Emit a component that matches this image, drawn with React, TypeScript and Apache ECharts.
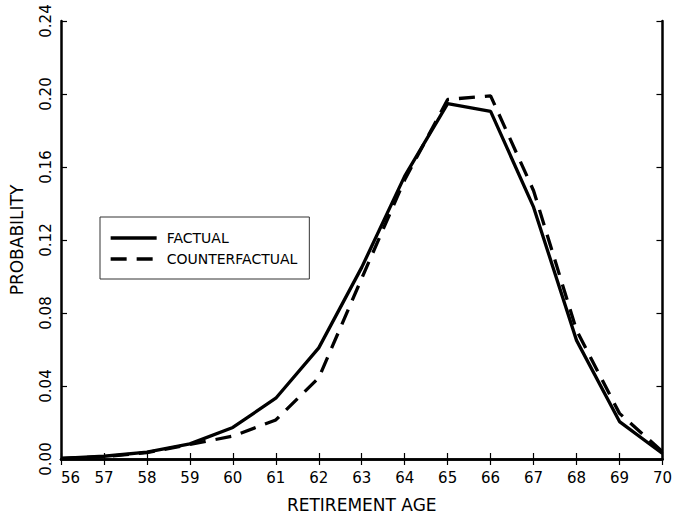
import React, { useEffect, useRef } from "react";
import * as echarts from "echarts";

const ages = [56, 57, 58, 59, 60, 61, 62, 63, 64, 65, 66, 67, 68, 69, 70];
const factual = [0.0003, 0.0015, 0.0038, 0.0083, 0.0173, 0.0333, 0.0609, 0.105, 0.155, 0.1947, 0.1905, 0.138, 0.065, 0.0205, 0.003];
const counterfactual = [0.0003, 0.0013, 0.0035, 0.008, 0.0125, 0.0214, 0.0445, 0.099, 0.153, 0.197, 0.199, 0.147, 0.0705, 0.025, 0.004];
const seriesNames = ["FACTUAL", "COUNTERFACTUAL"];

const FONT = "DejaVu Sans";

export default function App() {
  const ref = useRef<HTMLDivElement>(null);
  useEffect(() => {
    if (!ref.current) return;
    const chart = echarts.init(ref.current, null, { renderer: "svg" });
    const axisLine = { show: true, lineStyle: { color: "#000", width: 2.5 } };
    const tick = { show: true, inside: true, length: 6, lineStyle: { color: "#000", width: 1.2 } };
    chart.setOption({
      animation: false,
      backgroundColor: "#fff",
      grid: { left: 57, right: 8, top: 21, bottom: 57 },
      legend: {
        data: seriesNames,
        orient: "vertical",
        left: 100,
        top: 217,
        itemWidth: 46,
        itemHeight: 14,
        itemGap: 7,
        padding: [14, 12, 13, 9],
        borderColor: "#333",
        borderWidth: 1,
        itemStyle: { color: "transparent", borderWidth: 0, opacity: 0 },
        lineStyle: { width: 3.3 },
        textStyle: { fontFamily: FONT, fontSize: 14, color: "#000", padding: [0, 0, 0, 5] },
      },
      xAxis: [
        {
          type: "value",
          min: 56,
          max: 70,
          interval: 1,
          position: "bottom",
          name: "RETIREMENT AGE",
          nameLocation: "middle",
          nameGap: 37,
          nameTextStyle: { fontFamily: FONT, fontSize: 17, color: "#000" },
          axisLine,
          axisTick: tick,
          splitLine: { show: false },
          axisLabel: {
            fontFamily: FONT,
            fontSize: 15,
            color: "#000",
            margin: 11,
            alignMinLabel: "left",
          },
        },
        {
          type: "value",
          min: 56,
          max: 70,
          interval: 1,
          position: "top",
          axisLine,
          axisTick: tick,
          axisLabel: { show: false },
          splitLine: { show: false },
        },
      ],
      yAxis: [
        {
          type: "value",
          min: 0,
          max: 0.24,
          interval: 0.04,
          position: "left",
          name: "PROBABILITY",
          nameLocation: "middle",
          nameGap: 36,
          nameRotate: 90,
          nameTextStyle: { fontFamily: FONT, fontSize: 17, color: "#000" },
          axisLine,
          axisTick: tick,
          splitLine: { show: false },
          axisLabel: {
            fontFamily: FONT,
            fontSize: 15,
            color: "#000",
            rotate: 90,
            margin: 8,
            formatter: (v: number) => v.toFixed(2),
          },
        },
        {
          type: "value",
          min: 0,
          max: 0.24,
          interval: 0.04,
          position: "right",
          axisLine,
          axisTick: tick,
          axisLabel: { show: false },
          splitLine: { show: false },
        },
      ],
      series: [
        {
          name: seriesNames[0],
          type: "line",
          symbol: "none",
          data: ages.map((a, i) => [a, factual[i]]),
          lineStyle: { color: "#000", width: 3.3, type: "solid" },
          itemStyle: { color: "#000" },
        },
        {
          name: seriesNames[1],
          type: "line",
          symbol: "none",
          data: ages.map((a, i) => [a, counterfactual[i]]),
          lineStyle: { color: "#000", width: 3.3, type: [16, 10] },
          itemStyle: { color: "#000" },
        },
      ],
    });
    return () => chart.dispose();
  }, []);
  return <div ref={ref} style={{ width: 675, height: 518, position: "absolute", left: 0, top: 0 }} />;
}
